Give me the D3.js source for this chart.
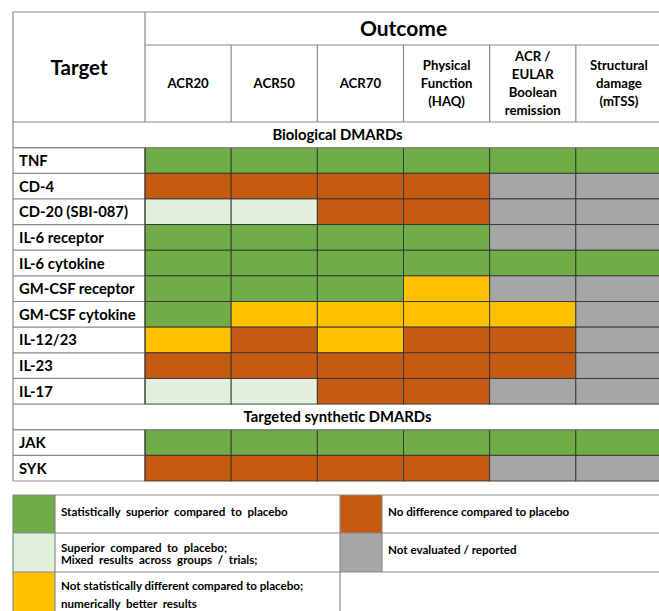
<!DOCTYPE html>
<html><head><meta charset="utf-8">
<script src="https://cdn.jsdelivr.net/npm/d3@7"></script>
<style>body{margin:0;background:#fff;overflow:hidden}</style>
</head><body>
<svg id="c" width="659" height="611"></svg>
<script>
// ---------- data ----------
const outcomes = ["ACR20","ACR50","ACR70","HAQ","Boolean","mTSS"];
const outcomeLabels = [["ACR20"],["ACR50"],["ACR70"],["Physical","Function","(HAQ)"],["ACR /","EULAR","Boolean","remission"],["Structural","damage","(mTSS)"]];
const sections = ["Biological DMARDs","Targeted synthetic DMARDs"];
const biologicalTargets = ["TNF","CD-4","CD-20 (SBI-087)","IL-6 receptor","IL-6 cytokine","GM-CSF receptor","GM-CSF cytokine","IL-12/23","IL-23","IL-17"];
const syntheticTargets = ["JAK","SYK"];
// S = statistically superior, M = superior/mixed, N = numerically better, D = no difference, X = not evaluated
const biologicalResults = [
  ["S","S","S","S","S","S"],
  ["D","D","D","D","X","X"],
  ["M","M","D","D","X","X"],
  ["S","S","S","S","X","X"],
  ["S","S","S","S","S","S"],
  ["S","S","S","N","X","X"],
  ["S","N","N","N","N","X"],
  ["N","D","N","D","D","X"],
  ["D","D","D","D","D","X"],
  ["M","M","D","D","X","X"]
];
const syntheticResults = [
  ["S","S","S","S","S","S"],
  ["D","D","D","D","X","X"]
];
const legendCodes = ["S","M","N","D","X"];
const legendLabels = [
  ["Statistically  superior  compared  to  placebo"],
  ["Superior  compared  to  placebo;","Mixed  results  across  groups  /  trials;"],
  ["Not statistically different compared to placebo;","numerically  better  results"],
  ["No difference compared to placebo"],
  ["Not evaluated / reported"]
];
const colors = {S:"#70AD47", M:"#E2EFDA", N:"#FFC000", D:"#C55A11", X:"#A6A6A6"};

// ---------- layout ----------
const svg = d3.select("#c");
const FONT = "Lato, 'Open Sans', sans-serif";
const L = 13, R = 662, labelR = 145;
const topY = 12, outcomeBottom = 45, headBottom = 122, bodyBottom = 481;
const gridLine = "#8a8a8a", cellLine = "#333";

const rows = [];
rows.push({type:"section", label:sections[0]});
biologicalTargets.forEach((t,i)=>rows.push({type:"row", label:t, vals:biologicalResults[i]}));
rows.push({type:"section", label:sections[1]});
syntheticTargets.forEach((t,i)=>rows.push({type:"row", label:t, vals:syntheticResults[i]}));

const x = d3.scaleBand().domain(outcomes).range([labelR, R]);
const y = d3.scaleBand().domain(rows.map((r,i)=>i)).range([headBottom, bodyBottom]);

const g = svg.append("g");
function line(x1,y1,x2,y2,c,w){ g.append("line").attr("x1",x1).attr("y1",y1).attr("x2",x2).attr("y2",y2).attr("stroke",c||gridLine).attr("stroke-width",w||1.2); }

// header texts
g.append("text").attr("x",(L+labelR)/2).attr("y",75).attr("text-anchor","middle")
  .attr("font-family",FONT).attr("font-weight","bold").attr("font-size",20.5).attr("fill","#000").text("Target");
g.append("text").attr("x",(labelR+R)/2).attr("y",36).attr("text-anchor","middle")
  .attr("font-family",FONT).attr("font-weight","bold").attr("font-size",21).attr("fill","#000").text("Outcome");

outcomes.forEach((o,i)=>{
  const lines = outcomeLabels[i];
  const cx = x(o) + x.bandwidth()/2;
  const cy = (outcomeBottom + headBottom)/2;
  const lh = 18;
  const t = g.append("text").attr("text-anchor","middle").attr("font-family",FONT).attr("font-weight","bold")
    .attr("font-size",13.2).attr("fill","#000");
  lines.forEach((ln,j)=>{
    t.append("tspan").attr("x",cx).attr("y", cy + (j-(lines.length-1)/2)*lh + 4.5).text(ln);
  });
});

// body rows
rows.forEach((r,i)=>{
  const y0 = y(i), h = y.bandwidth();
  if(r.type==="section"){
    g.append("text").attr("x",(L+R)/2).attr("y",y0+h/2+5.5).attr("text-anchor","middle")
      .attr("font-family",FONT).attr("font-weight","bold").attr("font-size",14.8).attr("fill","#000").text(r.label);
  } else {
    g.append("text").attr("x",L+6).attr("y",y0+h/2+5.5).attr("font-family",FONT).attr("font-weight","bold")
      .attr("font-size",14.8).attr("fill","#000").text(r.label);
    g.selectAll(null).data(r.vals.map((v,k)=>({v,o:outcomes[k]}))).enter().append("rect")
      .attr("x",d=>x(d.o)).attr("y",y0).attr("width",x.bandwidth()).attr("height",h)
      .attr("fill",d=>colors[d.v]).attr("stroke",cellLine).attr("stroke-width",0.9);
  }
});

// grid lines in white areas
line(L,topY,R,topY);
line(labelR,outcomeBottom,R,outcomeBottom);
line(L,headBottom,R,headBottom);
rows.forEach((r,i)=>{ line(L,y(i)+y.bandwidth(),labelR,y(i)+y.bandwidth()); if(r.type==="section") line(L,y(i)+y.bandwidth(),R,y(i)+y.bandwidth(),gridLine,1.2); });
line(L,topY,L,bodyBottom);
line(labelR,topY,labelR,headBottom);
outcomes.forEach(o=>{ if(x(o)>labelR) line(x(o),outcomeBottom,x(o),headBottom); });
rows.forEach((r,i)=>{ if(r.type==="row") line(labelR,y(i),labelR,y(i)+y.bandwidth(),cellLine,0.9); });

// ---------- legend ----------
const lg = svg.append("g");
const legTop = 495, legRowH = [38, 39, 40];
const legRowY = [legTop, legTop+38, legTop+77];
const legCols = [{sx:L, tx:55}, {sx:340, tx:382}];
const legEnd = 665;
const legLineY = [[517],[552,564],[590,608]];
legendCodes.forEach((c,i)=>{
  const col = i<3 ? 0 : 1;
  const row = i<3 ? i : i-3;
  const y0 = legRowY[row], h = legRowH[row];
  const lc = legCols[col];
  lg.append("rect").attr("x",lc.sx).attr("y",y0).attr("width",lc.tx-lc.sx).attr("height",h).attr("fill",colors[c]);
  const lines = legendLabels[i];
  const t = lg.append("text").attr("font-family",FONT).attr("font-weight","bold").attr("font-size",11.6).attr("fill","#000")
    .attr("xml:space","preserve").style("white-space","pre");
  lines.forEach((ln,j)=>{
    const ty = lines.length===1 ? y0+21 : legLineY[row][j];
    t.append("tspan").attr("x",lc.tx+6).attr("y",ty).text(ln);
  });
});
function lline(x1,y1,x2,y2){ lg.append("line").attr("x1",x1).attr("y1",y1).attr("x2",x2).attr("y2",y2).attr("stroke",gridLine).attr("stroke-width",1.2); }
lline(L,legTop,legEnd,legTop);
lline(L,legRowY[1],legEnd,legRowY[1]);
lline(L,legRowY[2],legEnd,legRowY[2]);
lline(L,legTop,L,611);
lline(55,legTop,55,611);
lline(340,legTop,340,611);
lline(382,legTop,382,legRowY[2]);
</script>
</body></html>
